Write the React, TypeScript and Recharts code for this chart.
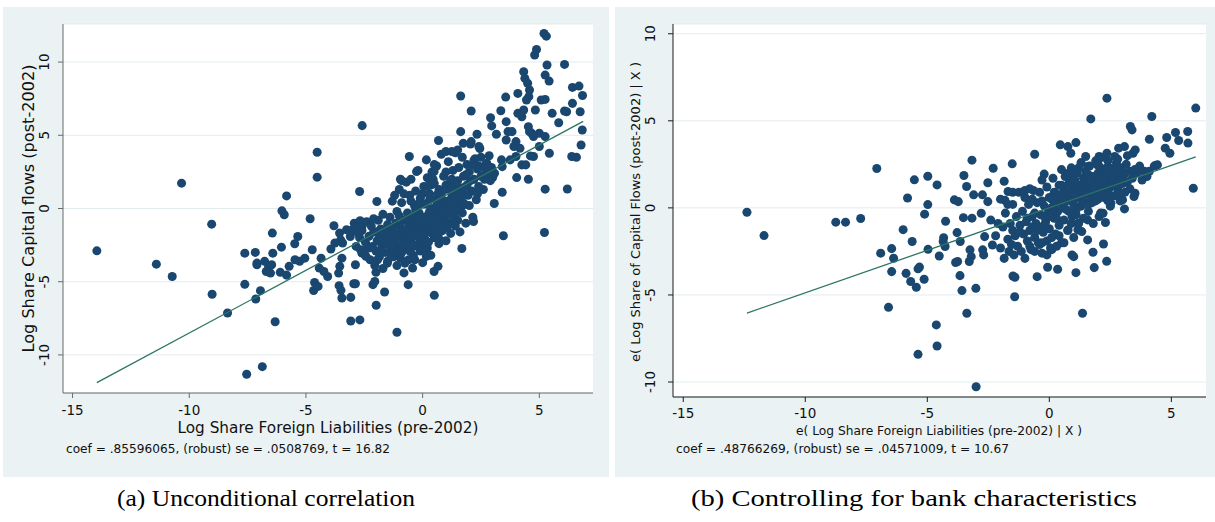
import React from 'react';
import { ScatterChart, Scatter, XAxis, YAxis, CartesianGrid } from 'recharts';

// ---------- data ----------
const xTicks = [-15, -10, -5, 0, 5];
const yTicksA = [-10, -5, 0, 5, 10];
const yTicksB = [-10, -5, 0, 5, 10];

const titleA_x = 'Log Share Foreign Liabilities (pre-2002)';
const titleA_y = 'Log Share Capital flows (post-2002)';
const noteA = 'coef = .85596065, (robust) se = .0508769, t = 16.82';
const titleB_x = 'e( Log Share Foreign Liabilities (pre-2002) | X )';
const titleB_y = 'e( Log Share of Capital Flows (post-2002) | X )';
const noteB = 'coef = .48766269, (robust) se = .04571009, t = 10.67';
const captionA = '(a) Unconditional correlation';
const captionB = '(b) Controlling for bank characteristics';

// Panel (a): unconditional scatter [x, y]
const unconditionalPoints: [number, number][] = [
  [-13.96,-2.89],[-11.41,-3.8],[-10.73,-4.64],[-10.33,1.73],[-9.04,-1.07],[-9.02,-5.86],[-8.36,-7.14],[-7.54,-11.32],[-6.87,-10.8],[-6.32,-7.73],
  [-7.62,-3.05],[-7.62,-5.18],[-7.17,-3.0],[-7.15,-6.18],[-6.95,-5.61],[-7.1,-3.84],[-6.77,-3.61],[-6.6,-3.95],[-6.52,-4.41],[-6.7,-4.3],[-7.1,-3.73],
  [-6.44,-1.68],[-6.42,-3.05],[-6.47,-3.84],[-6.1,-4.36],[-6.03,-0.16],[-5.93,-0.43],[-5.83,0.86],[-6.05,-2.64],[-5.83,-4.55],[-5.72,-3.95],
  [-5.48,-2.41],[-5.35,-1.91],[-5.47,-3.5],[-5.27,-3.61],[-5.05,-3.39],
  [-4.82,-0.7],[-4.73,-2.82],[-4.52,3.84],[-4.52,2.14],[-4.67,-5.6],[-4.63,-5.05],[-4.48,-5.32],
  [-4.35,-3.39],[-4.43,-4.07],[-4.23,-4.3],[-4.07,-4.64],
  [-3.93,-2.77],[-3.8,-1.18],[-3.76,-2.36],[-3.56,-1.68],[-3.51,-2.14],[-3.43,-2.36],
  [-3.55,-3.95],[-3.6,-4.41],[-3.46,-3.39],[-3.58,-5.27],[-3.5,-5.59],[-3.46,-6.11],
  [-3.08,-6.07],[-3.08,-7.68],[-2.95,-5.14],[-2.88,-5.14],[-2.88,-3.84],
  [-2.69,-7.61],[-2.7,1.16],[-2.59,5.66],
  [-3.01,-1.45],[-2.93,-1.0],[-2.68,-0.84],[-2.66,-2.82],[-2.43,-3.27],[-2.35,-2.59],
  [-3.26,-1.45],[-3.1,-1.91],[-2.76,-1.68],[-2.6,-1.23],[-2.85,-2.59],[-2.6,-3.05],
  [-2.13,-5.2],[-2.05,-4.98],[-2.0,-4.36],[-1.99,-6.61],[-1.96,0.48],[-1.63,-5.7],
  [-1.1,-8.45],[-0.57,3.55],[-0.62,-5.2],[0.5,-5.93],[0.49,-4.3],[0.66,-3.95],
  [0.68,4.64],[1.63,7.68],[1.68,-2.73],[2.08,6.66],
  [1.63,5.25],[1.74,4.45],[2.08,4.57],[2.33,5.07],[2.41,4.23],[2.18,-0.89],
  [2.91,6.2],[2.96,5.64],[3.16,5.07],[2.75,3.09],[3.07,0.34],[3.41,1.11],[3.38,3.32],
  [3.46,-1.86],[3.35,6.68],[3.56,7.61],[3.58,5.93],[3.66,5.25],[3.58,4.68],
  [4.03,2.11],[4.08,7.86],[4.33,9.34],[4.38,8.89],[4.5,8.55],
  [4.53,2.0],[4.8,10.48],[4.88,10.86],[5.22,-1.64],[5.25,1.32],[5.2,11.95],[5.3,11.77],
  [5.33,9.8],[5.42,8.7],[5.25,9.11],[5.08,7.41],[5.25,7.45],[5.0,5.14],[5.25,4.91],
  [5.43,3.77],[5.83,5.86],[6.08,9.84],[6.2,1.33],[6.39,3.55],[6.59,3.5],[6.42,8.27],[6.7,8.36],
  [6.42,7.18],[6.75,6.61],[6.85,7.72],[6.84,5.36],[6.79,4.34],[6.08,6.66],[6.17,6.61],
  [4.62,3.59],[4.75,3.55],[4.83,6.73],[4.67,5.14],[5.55,6.5],[4.53,5.59],
  [4.08,6.5],[4.25,6.27],[4.33,6.73],[4.55,7.64],[4.58,8.09],[4.45,7.41],
  [3.83,5.25],[3.91,4.23],[4.17,4.11],[4.0,3.55],[4.25,2.98],[4.42,2.98],
  [4.0,4.57],[3.75,3.32],[3.41,2.86],[3.08,2.41],[3.0,2.11],[5.0,4.23],[4.75,4.91],[4.58,5.25],
  [2.2,3.3],[2.5,3.5],[2.7,2.6],[2.85,3.6],[2.4,2.9],
  [-2.8,-1.3],[-2.7,-2.0],[-2.6,-1.5],[-2.5,-3.1],[-2.45,-2.3],[-2.4,-0.9],[-2.3,-1.9],[-2.25,-3.5],[-2.2,-1.2],[-2.15,-2.6],[-2.1,-0.7],[-2.05,-3.9],[-2.0,-1.6],[-2.0,-2.9],
  [-1.95,-2.2],[-1.9,-0.8],[-1.85,-3.3],[-1.8,-1.4],[-1.75,-2.5],[-1.7,-4.1],[-1.7,-0.4],[-1.65,-1.9],[-1.6,-3.0],[-1.55,-2.4],[-1.5,-1.1],[-1.5,-3.6],
  [-1.45,-2.0],[-1.4,-0.6],[-1.35,-2.8],[-1.3,-1.5],[-1.3,0.5],[-1.25,-3.3],[-1.2,-2.2],[-1.15,-1.0],[-1.1,-3.9],[-1.1,-0.2],[-1.05,-1.8],[-1.0,-2.6],[-1.0,1.3],
  [-0.95,-1.3],[-0.9,-3.0],[-0.9,0.4],[-0.85,-2.1],[-0.8,-0.8],[-0.8,-4.4],[-0.75,-1.6],[-0.7,-2.7],[-0.7,1.8],[-0.65,-0.3],[-0.6,-3.5],[-0.6,-1.2],[-0.55,0.9],[-0.5,-2.2],[-0.5,2.0],
  [-0.45,-1.7],[-0.4,-0.6],[-0.4,-3.2],[-0.35,0.2],[-0.3,-2.5],[-0.3,1.2],[-0.25,-1.1],[-0.2,-1.9],[-0.2,2.6],[-0.15,-0.3],[-0.1,-2.9],[-0.1,0.7],[-0.05,-1.4],[0.0,-3.7],[0.0,-0.8],
  [0.05,1.5],[0.1,-2.1],[0.1,0.3],[0.15,-1.0],[0.2,2.1],[0.2,-2.7],[0.25,-0.4],[0.3,1.0],[0.3,-1.6],[0.35,-3.2],[0.4,0.0],[0.4,2.5],[0.45,-0.9],[0.5,1.7],[0.5,-2.0],
  [0.55,0.6],[0.6,-1.3],[0.6,2.9],[0.65,-0.2],[0.7,1.3],[0.7,-2.4],[0.75,-0.7],[0.8,0.9],[0.8,3.7],[0.85,-1.5],[0.9,0.2],[0.9,2.2],[0.95,-0.6],[1.0,1.6],[1.0,-2.2],
  [1.05,0.5],[1.1,-1.0],[1.1,3.2],[1.15,0.0],[1.2,1.9],[1.2,-1.7],[1.25,0.8],[1.3,-0.5],[1.3,2.6],[1.35,1.2],[1.4,-1.2],[1.4,3.8],[1.45,0.3],[1.5,1.9],[1.5,-0.8],
  [1.55,2.8],[1.6,0.6],[1.6,-1.6],[1.65,1.4],[1.7,3.5],[1.7,-0.3],[1.75,2.2],[1.8,0.9],[1.85,-1.0],[1.9,3.0],[1.9,1.6],[2.0,0.2],[2.0,2.5],
  [2.05,4.4],[2.1,1.2],[2.15,-0.6],[2.2,2.0],[2.25,3.4],[2.3,0.6],[2.35,2.7],[2.4,1.5],[2.45,4.1],[2.5,2.2],
  [2.6,1.3],[2.7,3.0],[2.8,2.3],[2.9,1.9],[2.95,2.8],
  [-1.9,-1.7],[-1.6,-2.1],[-1.4,-1.3],[-1.2,-2.9],[-1.0,-1.2],[-0.85,-2.5],[-0.7,-1.9],[-0.55,-2.9],[-0.45,-0.9],[-0.3,-1.6],[-0.2,-0.7],[-0.1,-2.2],[0.0,-1.5],[0.1,-0.6],[0.2,-1.3],[0.3,-0.2],[0.4,-1.7],[0.5,-0.5],[0.6,0.2],[0.7,-1.0],[0.8,-0.3],[0.9,-1.1],[1.0,0.1],[1.1,-0.4],[1.2,0.5],[1.3,-1.0],[1.4,0.9],[1.5,0.4],[1.6,1.1],[1.7,0.2],
  [-2.3,-2.7],[-2.1,-1.6],[-1.8,-2.9],[-1.55,-1.6],[-1.25,-1.7],[-0.95,-3.4],[-0.65,-2.3],[-0.35,-1.3],[-0.05,-2.6],[0.25,-2.3],[0.55,-1.8],[0.85,0.5],[1.15,1.3],[1.45,1.6],[1.75,1.0],[2.05,1.9],[2.35,1.0],[2.65,2.0],
  [0.3,0.6],[0.0,0.3],[-0.3,-0.1],[0.7,0.7],[1.0,2.5],[0.5,3.0],[1.25,2.0],[1.85,2.3],[2.15,3.0],[-0.8,1.0],[-1.2,0.9],[0.2,1.5],
  [-0.26,2.52],[0.16,3.32],[0.49,2.52],[1.0,3.89],[1.25,3.89],[1.5,4.0],[-0.9,1.9],[-0.95,2.0],
  [0.58,-1.9],[0.74,-2.14],[0.16,-3.27],[-0.34,-3.5],[-0.93,-3.05],[-1.34,-3.27],[-1.51,-3.73],[-1.93,-3.5],[-0.76,-3.73],[-0.43,-4.07],[0.08,-2.7],
  [-1.3,-2.4],[-1.0,-0.5],[-0.8,-1.5],[-0.6,-0.7],[-0.4,-2.6],[-0.2,-1.2],[0.0,-2.0],[0.15,-1.6],[0.3,-0.9],[0.45,-1.3],[0.6,-0.6],[0.75,-1.6],[0.9,-0.2],[1.05,-1.3],[1.2,0.0],
  [1.35,-0.6],[1.5,-0.2],[1.65,0.5],[1.8,0.3],[1.95,0.9],[0.65,1.0],[0.95,1.3],[1.25,1.4],[1.55,1.0],[1.85,1.5],[0.35,1.6],[0.0,1.0],[-0.5,0.5],[-0.2,0.3],[0.45,2.0],
];

// Panel (b): added-variable scatter [x, y]
const controlledPoints: [number, number][] = [
  [-12.39,-0.25],[-11.69,-1.59],[-8.75,-0.82],[-8.35,-0.82],[-7.73,-0.61],[-7.07,2.26],[-6.91,-2.6],[-6.59,-5.71],[-6.46,-2.34],[-6.38,-2.89],
  [-6.46,-3.66],[-5.99,-1.25],[-5.81,0.57],[-5.87,-3.76],[-5.68,-4.23],[-5.62,-1.93],[-5.53,1.61],[-5.45,-4.56],[-5.38,-3.5],[-5.32,-3.4],
  [-5.38,-8.41],[-5.13,-4.1],[-5.11,-0.36],[-4.98,1.82],[-4.98,0.19],[-4.97,-2.38],[-4.63,-6.72],[-4.6,-7.93],[-4.6,1.32],[-4.51,-2.76],
  [-4.33,-1.71],[-4.27,-2.22],[-4.35,-1.93],[-4.25,-0.77],[-3.89,0.46],[-3.73,0.36],[-3.78,-1.42],[-3.84,-3.14],[-3.76,-3.08],
  [-3.66,-3.89],[-3.58,-4.75],[-3.65,-1.93],[-3.5,1.86],[-3.52,-0.56],[-3.39,1.23],[-3.38,-6.05],
  [-3.25,-2.41],[-3.2,-2.8],[-3.28,-3.08],[-3.17,-0.59],[-3.17,2.74],[-3.1,0.75],[-3.01,-4.62],[-3.0,-10.27],
  [-2.79,-0.31],[-2.74,0.75],[-2.69,-2.7],[-2.73,-2.41],[-2.65,-1.65],[-2.52,0.36],[-2.52,1.44],[-2.3,2.28],[-2.33,-2.13],
  [-1.85,1.53],[-1.82,0.44],[-1.69,0.94],[-1.52,2.53],[-1.42,-5.1],[-1.49,-3.91],[-1.41,-3.98],
  [-0.6,3.08],[-0.5,-3.95],[-0.07,-3.41],[0.34,-3.52],[-0.21,1.94],[0.45,3.62],[0.76,3.52],[0.88,3.14],
  [1.09,3.75],[1.09,-3.72],[1.36,-6.05],[1.7,5.11],[2.36,6.3],[2.35,-3.07],[2.22,-2.07],[2.3,-0.84],
  [1.79,-2.55],[1.84,-3.43],[1.57,-1.84],
  [3.32,4.67],[3.39,4.48],[3.52,3.33],[3.43,3.14],[4.1,3.94],[4.2,5.25],[4.75,3.43],[4.94,3.14],[4.81,4.04],
  [5.17,4.33],[5.3,3.87],[5.67,4.39],[5.68,3.72],[6.0,5.73],[5.9,1.13],[3.95,2.0],[4.35,2.43],[4.43,2.47],
  [3.51,0.84],[3.47,0.65],[3.08,-0.06],[3.0,0.46],
  [2.84,0.84],[2.68,2.95],[2.84,3.43],[3.08,3.52],[2.52,2.28],[2.36,3.14],[2.04,2.95],[1.49,2.95],[1.96,2.47],[1.57,2.38],
  [2.36,0.56],[2.52,0.27],[2.2,-0.31],[2.04,-0.5],[1.57,-0.69],[1.33,-1.36],[1.17,-1.26],[0.93,-0.5],[0.77,-1.26],
  [-2.4,-0.7],[-2.2,-1.6],[-2.1,-0.9],[-2.0,-2.3],[-1.9,-1.1],[-1.85,-2.9],[-1.8,-0.3],[-1.7,-1.8],[-1.65,-2.5],[-1.6,-0.9],[-1.55,-2.1],[-1.5,-1.3],[-1.5,0.2],
  [-1.45,-2.7],[-1.4,-1.6],[-1.35,-0.5],[-1.3,-2.2],[-1.25,0.9],[-1.2,-1.0],[-1.15,-2.5],[-1.1,-0.2],[-1.05,-1.5],[-1.0,-2.9],[-1.0,0.6],[-0.95,-0.8],[-0.9,-1.9],[-0.85,0.2],[-0.8,-1.3],[-0.75,-2.4],[-0.7,-0.5],[-0.65,1.0],[-0.6,-1.7],[-0.55,-0.9],[-0.5,0.3],
  [-0.45,-2.0],[-0.4,-1.1],[-0.4,0.9],[-0.35,-0.4],[-0.3,-2.6],[-0.3,1.6],[-0.25,-1.4],[-0.2,0.1],[-0.15,-0.8],[-0.1,-1.9],[-0.1,1.2],[-0.05,-0.3],[0.0,0.6],[0.0,-1.2],[0.05,-2.3],[0.1,0.0],[0.15,1.7],[0.2,-0.6],[0.2,0.9],[0.25,-1.5],[0.3,0.3],[0.35,-0.2],[0.4,1.3],[0.4,-1.0],[0.45,0.5],[0.5,-2.0],[0.5,2.2],
  [0.55,0.0],[0.6,1.0],[0.6,-0.7],[0.65,1.8],[0.7,0.4],[0.75,-1.3],[0.8,1.4],[0.8,-0.2],[0.85,0.7],[0.9,2.3],[0.9,-0.9],[0.95,1.1],[1.0,0.2],[1.0,-1.7],[1.05,1.6],[1.1,0.6],[1.1,-0.4],[1.15,2.0],[1.2,0.9],[1.2,-0.9],[1.25,1.3],[1.3,0.1],[1.3,2.6],[1.35,0.7],[1.4,-0.6],[1.4,1.7],[1.45,1.0],[1.5,0.3],[1.5,2.1],
  [1.55,1.4],[1.6,-0.2],[1.6,0.8],[1.65,2.4],[1.7,1.1],[1.75,0.3],[1.8,1.8],[1.8,-0.9],[1.85,0.9],[1.9,2.7],[1.95,1.3],[2.0,0.5],[2.0,2.0],[2.05,1.6],[2.1,-0.3],[2.1,1.0],[2.15,2.9],[2.2,1.8],[2.25,0.6],[2.3,1.3],[2.35,2.3],[2.4,0.9],[2.45,1.7],[2.5,0.1],
  [2.55,1.3],[2.6,2.1],[2.65,0.7],[2.7,1.6],[2.75,2.6],[2.8,1.1],[2.85,1.9],[2.9,0.4],[2.95,2.3],[3.0,1.4],[3.05,1.9],[3.1,0.9],[3.15,2.5],[3.2,1.5],[3.3,2.1],[3.4,1.7],[3.5,2.2],
  [-0.2,-0.5],[0.1,-0.3],[0.3,0.8],[0.5,0.6],[0.7,-0.1],[0.9,0.4],[1.1,1.3],[1.3,0.5],[1.5,1.5],[1.7,0.5],[1.9,1.5],[2.1,2.3],[2.3,1.0],[2.5,1.9],[-0.6,-0.3],[-0.9,-0.6],[-1.2,-1.4],[0.0,-0.5],[0.2,0.2],[0.6,0.3],[1.0,0.8],[1.4,0.3],[1.8,1.2],[2.2,1.4],[2.6,1.5],[-0.3,0.4],[-0.7,-1.1],[0.8,2.0],[1.2,2.3],[1.6,1.9],[2.0,2.5],[2.4,2.7],[2.8,2.8],[3.2,3.0],[3.6,2.0],[3.8,1.6],[3.7,2.4],[3.9,2.1],[4.1,2.1],[4.3,2.4],[4.0,1.8],
  [-2.0,0.5],[-1.7,0.2],[-1.5,0.9],[-1.0,1.0],[-0.8,1.1],[-0.7,0.5],
  [-0.8,-2.2],[-0.6,-2.5],[-0.4,-2.1],[-0.3,-2.0],[-0.1,-2.7],[0.1,-2.4],[0.1,-1.7],[0.3,-2.2],[0.4,-1.6],[0.6,-2.0],[1.0,-2.8],[0.93,-2.7],[1.17,-0.9],
  [-0.5,-1.3],[-0.2,-1.0],[0.1,0.5],[0.3,-0.6],[0.5,1.3],[0.7,0.9],[0.9,1.7],[1.1,-0.1],[1.3,1.0],[1.5,0.9],[1.7,1.6],[1.9,0.4],[2.1,1.7],
  [2.3,2.0],[2.5,1.2],[2.7,2.1],[2.9,1.5],[3.1,2.0],[1.0,1.4],[0.6,0.6],[1.6,0.2],[2.0,0.9],[2.4,0.4],[2.8,0.8],[3.3,1.1],
];

// Fitted regression lines (endpoints at min/max x)
const fitA: [number, number][] = [[-13.96, -11.89], [6.88, 5.95]];
const fitB: [number, number][] = [[-12.39, -6.04], [6.0, 2.93]];

// ---------- styles ----------
const NAVY = '#1a476f';
const FIT = '#2b7564';
const PANEL_BG = '#eaf2f3';
const GRID = '#e3ebee';
const FONT = '"DejaVu Sans", sans-serif';
const SERIF = '"Liberation Serif", serif';
const INK = '#111111';

const rows = (pts: [number, number][]) => pts.map(([x, y]) => ({ x, y }));
const NoDot = () => <g />;

const makeYTick = (off: number) => (p: any) => {
  const cx = p.x - off;
  const cy = p.y;
  return (
    <text x={cx} y={cy} transform={`rotate(-90 ${cx} ${cy})`} textAnchor="middle" dominantBaseline="central"
      fontSize={13.5} fontFamily={FONT} fill={INK}>{p.payload.value}</text>
  );
};
const makeXTick = (off: number) => (p: any) => (
  <text x={p.x} y={p.y + off} textAnchor="middle" dominantBaseline="central"
    fontSize={13.5} fontFamily={FONT} fill={INK}>{p.payload.value}</text>
);

export default function App() {
  const rowsA = rows(unconditionalPoints);
  const rowsB = rows(controlledPoints);
  const lineA = rows(fitA);
  const lineB = rows(fitB);
  return (
    <div style={{ position: 'absolute', left: 0, top: 0, width: 1215, height: 522, background: '#fff', overflow: 'hidden' }}>
      {/* Panel a */}
      <div style={{ position: 'absolute', left: 3, top: 7, width: 606, height: 470, background: PANEL_BG }}>
        <ScatterChart width={606} height={470} margin={{ top: 17, right: 16, bottom: 0, left: 0 }}>
          <CartesianGrid vertical={false} stroke={GRID} fill="#ffffff" fillOpacity={1} />
          <XAxis type="number" dataKey="x" domain={[-15.41, 7.3]} ticks={xTicks} allowDataOverflow interval={0}
            height={84} tickSize={5} tickMargin={0} stroke="#6a6a6a" tick={makeXTick(12)} />
          <YAxis type="number" dataKey="y" domain={[-12.6, 12.6]} ticks={yTicksA} allowDataOverflow interval={0}
            width={60} tickSize={5} tickMargin={0} stroke="#6a6a6a" tick={makeYTick(14)} />
          <Scatter data={rowsA} fill={NAVY} isAnimationActive={false} />
          <Scatter data={lineA} line={{ stroke: FIT, strokeWidth: 1.3 }} shape={NoDot} isAnimationActive={false} />
        </ScatterChart>
        <svg width={606} height={470} style={{ position: 'absolute', left: 0, top: 0, pointerEvents: 'none' }}>
          <text x={325} y={421} textAnchor="middle" dominantBaseline="central" fontSize={15} fontFamily={FONT} fill={INK}
            textLength={301} lengthAdjust="spacingAndGlyphs">{titleA_x}</text>
          <text x={26} y={201.5} transform="rotate(-90 26 201.5)" textAnchor="middle" dominantBaseline="central" fontSize={15.5}
            fontFamily={FONT} fill={INK} textLength={288} lengthAdjust="spacingAndGlyphs">{titleA_y}</text>
          <text x={63} y={442} dominantBaseline="central" fontSize={12} fontFamily={FONT} fill={INK}
            textLength={324} lengthAdjust="spacingAndGlyphs">{noteA}</text>
        </svg>
      </div>

      {/* Panel b */}
      <div style={{ position: 'absolute', left: 615, top: 7, width: 600, height: 470, background: PANEL_BG }}>
        <ScatterChart width={600} height={470} margin={{ top: 17, right: 9, bottom: 0, left: 0 }}>
          <CartesianGrid vertical={false} stroke={GRID} fill="#ffffff" fillOpacity={1} />
          <XAxis type="number" dataKey="x" domain={[-15.42, 6.42]} ticks={xTicks} allowDataOverflow interval={0}
            height={80} tickSize={5} tickMargin={0} stroke="#1a1a1a" tick={makeXTick(11)} />
          <YAxis type="number" dataKey="y" domain={[-10.86, 10.56]} ticks={yTicksB} allowDataOverflow interval={0}
            width={58} tickSize={5} tickMargin={0} stroke="#1a1a1a" tick={makeYTick(17.5)} />
          <Scatter data={rowsB} fill={NAVY} isAnimationActive={false} />
          <Scatter data={lineB} line={{ stroke: FIT, strokeWidth: 1.3 }} shape={NoDot} isAnimationActive={false} />
        </ScatterChart>
        <svg width={600} height={470} style={{ position: 'absolute', left: 0, top: 0, pointerEvents: 'none' }}>
          <text x={324} y={423} textAnchor="middle" dominantBaseline="central" fontSize={12.5} fontFamily={FONT} fill={INK}
            textLength={286} lengthAdjust="spacingAndGlyphs">{titleB_x}</text>
          <text x={20} y={205} transform="rotate(-90 20 205)" textAnchor="middle" dominantBaseline="central" fontSize={13}
            fontFamily={FONT} fill={INK} textLength={300} lengthAdjust="spacingAndGlyphs">{titleB_y}</text>
          <text x={61} y={442} dominantBaseline="central" fontSize={12} fontFamily={FONT} fill={INK}
            textLength={333} lengthAdjust="spacingAndGlyphs">{noteB}</text>
        </svg>
      </div>

      {/* Captions */}
      <svg width={1215} height={45} style={{ position: 'absolute', left: 0, top: 477 }}>
        <text x={266} y={21} textAnchor="middle" dominantBaseline="central" fontSize={24} fontFamily={SERIF} fill="#000"
          textLength={298} lengthAdjust="spacingAndGlyphs">{captionA}</text>
        <text x={914} y={21} textAnchor="middle" dominantBaseline="central" fontSize={24} fontFamily={SERIF} fill="#000"
          textLength={446} lengthAdjust="spacingAndGlyphs">{captionB}</text>
      </svg>
    </div>
  );
}
